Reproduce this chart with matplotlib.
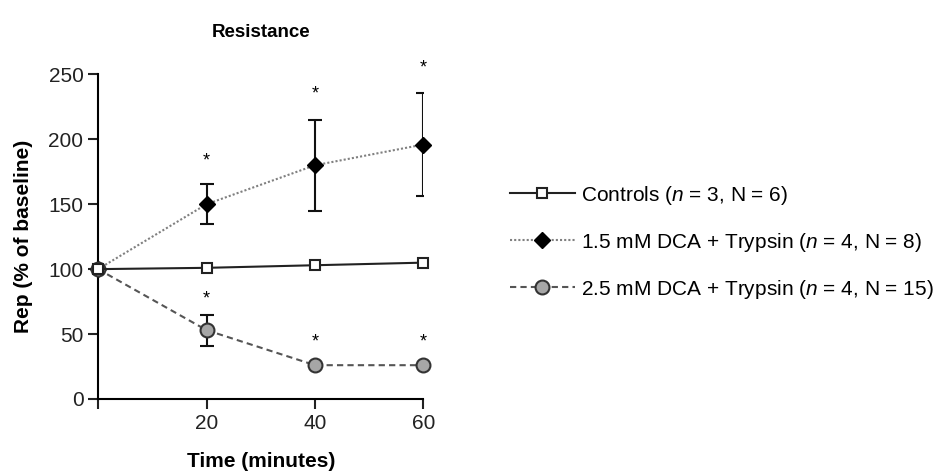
import matplotlib.pyplot as plt
import numpy as np

plt.rcParams['font.family'] = ['Liberation Sans', 'DejaVu Sans']
plt.rcParams['mathtext.fontset'] = 'custom'
plt.rcParams['mathtext.rm'] = 'Liberation Sans'
plt.rcParams['mathtext.it'] = 'Liberation Sans:italic'

# datos
tiempo = [0, 20, 40, 60]
controles = [100, 101, 103, 105]
dca_15 = [100, 150, 180, 196]
dca_15_err = [0, 15.5, 35, 40]
dca_25 = [100, 53, 26, 26]
dca_25_err = [0, 12, 0, 0]
# asteriscos (posicion y de cada uno)
ast_15 = [183, 235, 255]
ast_25 = [77, 44, 44]
t_ast = [20, 40, 60]

etiquetas = [r'Controls ($n$ = 3, N = 6)',
             r'1.5 mM DCA + Trypsin ($n$ = 4, N = 8)',
             r'2.5 mM DCA + Trypsin ($n$ = 4, N = 15)']

fig = plt.figure(figsize=(9.43, 4.71), dpi=100)
ax = fig.add_axes([0.104, 0.153, 0.345, 0.689])

# barras de error primero para que queden detras de los marcadores
ax.errorbar(tiempo[1:], dca_15[1:], yerr=dca_15_err[1:], fmt='none', ecolor='#111111',
            elinewidth=1.5, capsize=5, capthick=1.5, zorder=2)
ax.errorbar(tiempo[1:2], dca_25[1:2], yerr=dca_25_err[1:2], fmt='none', ecolor='#111111',
            elinewidth=1.5, capsize=5, capthick=1.5, zorder=2)

l2, = ax.plot(tiempo, dca_15, linestyle=(0, (1, 1)), color='#808080', lw=1.5,
              marker='D', markersize=8, markerfacecolor='black', markeredgecolor='black',
              zorder=3, clip_on=False)
l3, = ax.plot(tiempo, dca_25, linestyle=(0, (3, 2)), color='#555555', lw=1.5,
              marker='o', markersize=10, markerfacecolor='#a6a6a6', markeredgecolor='#333333',
              markeredgewidth=1.5, zorder=3, clip_on=False)
l1, = ax.plot(tiempo, controles, linestyle='-', color='#222222', lw=1.5,
              marker='s', markersize=7.5, markerfacecolor='white', markeredgecolor='#222222',
              markeredgewidth=1.5, zorder=4, clip_on=False)

for x, y in zip(t_ast, ast_15):
    ax.text(x, y, '*', ha='center', va='center', fontsize=13)
for x, y in zip(t_ast, ast_25):
    ax.text(x, y, '*', ha='center', va='center', fontsize=13)

ax.set_xlim(0, 60)
ax.set_ylim(0, 250)
ax.set_xticks([0, 20, 40, 60])
ax.set_xticklabels(['', '20', '40', '60'])
ax.set_yticks([0, 50, 100, 150, 200, 250])
ax.tick_params(labelsize=15, width=1.5, length=7, colors='#222222')
ax.spines['top'].set_visible(False)
ax.spines['right'].set_visible(False)
ax.spines['left'].set_linewidth(1.5)
ax.spines['bottom'].set_linewidth(1.5)

ax.set_xlabel('Time (minutes)', fontsize=15, fontweight='bold')
ax.set_ylabel('Rep (% of baseline)', fontsize=15, fontweight='bold')
ax.xaxis.set_label_coords(0.5, -0.165)
ax.yaxis.set_label_coords(-0.2, 0.5)
ax.set_title('Resistance', fontsize=13.5, fontweight='bold', pad=27)

fig.legend([l1, l2, l3], etiquetas, loc='center left', bbox_to_anchor=(0.521, 0.486),
           frameon=False, fontsize=15, handlelength=3.1, numpoints=1,
           labelspacing=1.15, handletextpad=0.3)

fig.savefig('out.png', dpi=100)
